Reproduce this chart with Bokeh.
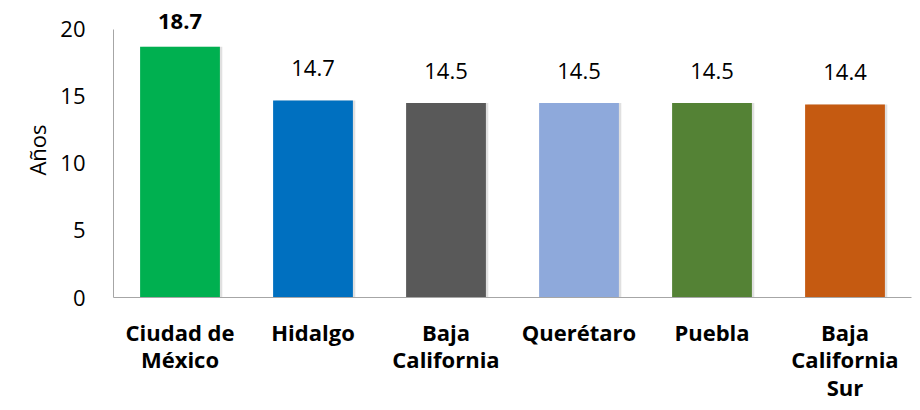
from bokeh.plotting import figure
from bokeh.models import ColumnDataSource, LabelSet, FixedTicker, Range1d
from bokeh.core.properties import value
from bokeh.transform import dodge
from bokeh.embed import file_html
from bokeh.resources import INLINE

states = ["Ciudad de\nMéxico", "Hidalgo", "Baja\nCalifornia", "Querétaro", "Puebla", "Baja\nCalifornia\nSur"]
years = [18.7, 14.7, 14.5, 14.5, 14.5, 14.4]
labels = ["18.7", "14.7", "14.5", "14.5", "14.5", "14.4"]
colors = ["#00B050", "#0070C0", "#595959", "#8EA9DB", "#548235", "#C55A11"]
y_ticks = [0, 5, 10, 15, 20]

FONT = "Open Sans"
FS = "22px"

src = ColumnDataSource(dict(x=states, top=years, label=labels, color=colors))

p = figure(x_range=states, y_range=Range1d(0, 22), width=912, height=405,
           output_backend="svg", toolbar_location=None,
           min_border_left=113, min_border_right=1, min_border_top=2, min_border_bottom=108)
p.outline_line_color = None
p.xgrid.grid_line_color = None
p.ygrid.grid_line_color = None
p.background_fill_color = "#FFFFFF"

# subtle drop shadow
p.vbar(x=dodge("x", 0.018, range=p.x_range), top="top", width=0.6, source=src,
       fill_color="#000000", fill_alpha=0.12, line_color=None)
p.vbar(x="x", top="top", width=0.6, source=src, fill_color="color", line_color=None)

src_bold = ColumnDataSource(dict(x=states[:1], top=years[:1], label=labels[:1]))
src_norm = ColumnDataSource(dict(x=states[1:], top=years[1:], label=labels[1:]))
for s, style, off in ((src_bold, "bold", 18), (src_norm, "normal", 24)):
    p.add_layout(LabelSet(x="x", y="top", text="label", source=s, text_align="center",
                          text_baseline="alphabetic", y_offset=off, text_font=value(FONT),
                          text_font_size=FS, text_font_style=style, text_color="#000000"))

p.yaxis.ticker = FixedTicker(ticks=y_ticks)
p.yaxis.bounds = (0, 20)
p.yaxis.axis_label = "Años"
p.yaxis.axis_label_text_font = FONT
p.yaxis.axis_label_text_font_size = FS
p.yaxis.axis_label_text_font_style = "normal"
p.yaxis.axis_label_text_color = "#000000"
p.yaxis.axis_label_standoff = 5
p.yaxis.major_label_text_font = FONT
p.yaxis.major_label_text_font_size = FS
p.yaxis.major_label_text_color = "#000000"
p.yaxis.major_label_standoff = 22
p.yaxis.major_tick_line_color = None
p.yaxis.minor_tick_line_color = None
p.yaxis.axis_line_color = "#A6A6A6"

p.xaxis.major_label_text_font = FONT
p.xaxis.major_label_text_font_size = FS
p.xaxis.major_label_text_font_style = "bold"
p.xaxis.major_label_text_color = "#000000"
p.xaxis.major_label_text_line_height = 0.93
p.xaxis.major_label_standoff = 13
p.xaxis.major_tick_line_color = None
p.xaxis.axis_line_color = "#A6A6A6"

open("out.html", "w").write(file_html(p, INLINE))
